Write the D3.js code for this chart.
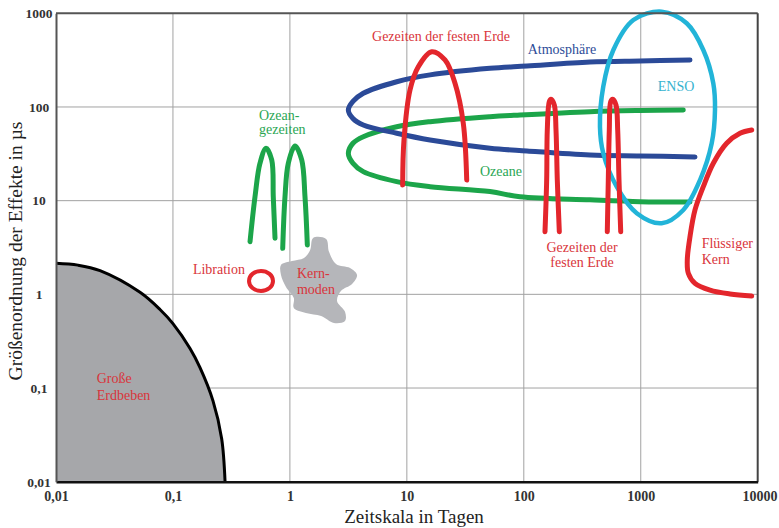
<!DOCTYPE html>
<html><head><meta charset="utf-8">
<script src="https://cdn.jsdelivr.net/npm/d3@7"></script>
<style>body{margin:0;background:#fff}svg{display:block}</style>
</head><body><svg id="c" width="779" height="528"></svg>
<script>
// ---- axis data ----
const xTicks = [0.01, 0.1, 1, 10, 100, 1000, 10000];
const xTickLabels = ["0,01", "0,1", "1", "10", "100", "1000", "10000"];
const yTicks = [0.01, 0.1, 1, 10, 100, 1000];
const yTickLabels = ["0,01", "0,1", "1", "10", "100", "1000"];
const xTitle = "Zeitskala in Tagen";
const yTitle = "Größenordnung der Effekte in µs";

// ---- regions (time scale in days, effect in µs) ----
const grosseErdbeben = [[0.01,2.15],[0.0154,2.05],[0.0238,1.79],[0.0523,1.05],[0.0775,0.689],[0.1,0.487],[0.14,0.264],[0.17,0.166],[0.22,0.073],[0.261,0.0288],[0.279,0.01]];
const kernModen = [[1.58,4.0],[2.04,3.9],[2.16,2.84],[2.48,2.11],[3.27,1.91],[3.75,1.61],[3.40,1.29],[2.74,1.09],[2.53,0.85],[2.96,0.65],[2.96,0.52],[2.38,0.495],[1.85,0.588],[1.37,0.633],[1.08,0.716],[1.08,0.915],[0.926,1.20],[0.839,1.61],[0.839,2.06],[1.04,2.27],[1.32,2.45],[1.49,2.98]];
const ozeane = [[2311,92.9],[985,91.7],[368,89.1],[92.8,82.2],[51.4,78.8],[15.8,69.7],[8.19,61.6],[4.24,48.2],[3.46,41.0],[3.16,32.1],[3.46,25.1],[4.24,20.4],[8.19,15.95],[15.8,14.1],[51.4,12.5],[92.8,11.0],[368,10.2],[985,9.76],[2637,9.68]];
const atmosphaere = [[2637,317],[985,310],[368,302],[106.5,274],[51.4,259],[15.8,220],[8.19,186],[4.24,140],[3.46,114.5],[3.16,92.9],[3.46,75.4],[4.24,64.3],[8.19,52.4],[15.8,44.4],[51.4,36.3],[106.5,33.9],[368,30.7],[985,30.0],[2910,29.3]];
const enso = [[1511,1040],[2471,782],[3426,406],[4173,179],[4313,92.9],[4044,41.0],[3212,16.6],[2311,7.96],[1511,5.74],[924,7.34],[623,14.1],[478,32.1],[448,61.6],[478,164.7],[583,406],[864,848]];
const gezeitenGross = [[9.21,14.71],[9.45,44.4],[10.64,151.9],[12.53,269.2],[16.31,389.2],[21.19,317.4],[25.81,179.0],[30.38,67.0],[32.5,16.63]];
const gezeitenA = [[151.8,4.67],[156.9,16.6],[158.8,56.8],[165.2,113.9],[170.9,120.8],[182.3,105],[188.5,56.8],[193.4,16.6],[201.2,4.67]];
const gezeitenB = [[517.6,4.67],[527.9,16.6],[538.4,56.8],[553.4,113.9],[575.7,120.8],[614.2,105],[635.1,56.8],[651.6,16.6],[673.9,4.67]];
const fluessigerKern = [[8886,56.8],[7058,52.4],[5430,41.0],[4173,25.1],[3426,14.1],[2910,7.96],[2637,4.13],[2500,2.33],[2551,1.68],[2910,1.31],[3910,1.11],[5798,1.01],[8886,0.961]];
const ozeanGezeiten1 = [[0.456,3.65],[0.503,11.0],[0.555,25.1],[0.625,36.3],[0.699,27.2],[0.721,11.0],[0.746,3.97]];
const ozeanGezeiten2 = [[0.868,3.10],[0.908,11.0],[0.969,25.1],[1.106,38.4],[1.262,27.2],[1.346,11.0],[1.409,3.37]];
const libration = {xMin: 0.447, xMax: 0.717, yMin: 1.087, yMax: 1.777};

// ---- annotations (anchor in days / µs) ----
const annotations = [
  {text: "Gezeiten der festen Erde", x: 19.6, y: 506, kind: "red", anchor: "middle"},
  {text: "Atmosphäre", x: 212, y: 368, kind: "blue", anchor: "middle"},
  {text: "ENSO", x: 2002, y: 148, kind: "cyan", anchor: "middle"},
  {text: "Ozeane", x: 63.8, y: 18.3, kind: "green", anchor: "middle"},
  {text: "Gezeiten der", x: 314.5, y: 2.83, kind: "red", anchor: "middle"},
  {text: "festen Erde", x: 314.5, y: 1.96, kind: "red", anchor: "middle"},
  {text: "Flüssiger", x: 3320, y: 3.09, kind: "red", anchor: "start"},
  {text: "Kern", x: 3320, y: 2.11, kind: "red", anchor: "start"},
  {text: "Libration", x: 0.413, y: 1.63, kind: "red", anchor: "end"},
  {text: "Kern-", x: 1.15, y: 1.496, kind: "red", anchor: "start"},
  {text: "moden", x: 1.15, y: 1.01, kind: "red", anchor: "start"},
  {text: "Ozean-", x: 0.544, y: 72.6, kind: "green", anchor: "start"},
  {text: "gezeiten", x: 0.544, y: 51.5, kind: "green", anchor: "start"},
  {text: "Große", x: 0.0223, y: 0.1134, kind: "red", anchor: "start"},
  {text: "Erdbeben", x: 0.0223, y: 0.0746, kind: "red", anchor: "start"}
];

const stroke = {red: "#e3262c", green: "#1ca54a", blue: "#2b4a98", cyan: "#22b4d8"};
const textCol = {red: "#d9353b", green: "#2aa653", blue: "#2d4c98", cyan: "#36b3cf"};

const svg = d3.select("#c");
const x = d3.scaleLog().domain([0.01, 10000]).range([56, 757.7]);
const y = d3.scaleLog().domain([0.01, 1000]).range([481.7, 13.3]);
const serif = "'Liberation Serif','Times New Roman',serif";

// grid
const grid = svg.append("g");
grid.selectAll("line.vx").data(xTicks.slice(1, -1)).join("line")
  .attr("x1", d => x(d)).attr("x2", d => x(d)).attr("y1", y(0.01)).attr("y2", y(1000))
  .attr("stroke", "#a2a2a2").attr("stroke-width", 1);
grid.selectAll("line.hy").data(yTicks.slice(1, -1)).join("line")
  .attr("y1", d => y(d)).attr("y2", d => y(d)).attr("x1", x(0.01)).attr("x2", x(10000))
  .attr("stroke", "#a2a2a2").attr("stroke-width", 1);

const curve = d3.line().x(d => x(d[0])).y(d => y(d[1])).curve(d3.curveCatmullRom.alpha(0.5));
const closed = d3.line().x(d => x(d[0])).y(d => y(d[1])).curve(d3.curveCatmullRomClosed.alpha(0.5));

// Große Erdbeben
svg.append("path")
  .attr("d", curve(grosseErdbeben) + `L${x(0.01)},${y(0.01)}Z`)
  .attr("fill", "#a6a7aa");
svg.append("path").attr("d", curve(grosseErdbeben))
  .attr("fill", "none").attr("stroke", "#000").attr("stroke-width", 3);

// Kernmoden blob
svg.append("path").attr("d", closed(kernModen)).attr("fill", "#b5b6ba");

function drawLine(data, col, w) {
  svg.append("path").attr("d", curve(data)).attr("fill", "none")
    .attr("stroke", stroke[col]).attr("stroke-width", w)
    .attr("stroke-linecap", "round").attr("stroke-linejoin", "round");
}
drawLine(ozeane, "green", 5);
drawLine(atmosphaere, "blue", 5);
svg.append("path").attr("d", closed(enso)).attr("fill", "none")
  .attr("stroke", stroke.cyan).attr("stroke-width", 4.5);
drawLine(gezeitenGross, "red", 5);
drawLine(gezeitenA, "red", 5);
drawLine(gezeitenB, "red", 5);
drawLine(fluessigerKern, "red", 5);
drawLine(ozeanGezeiten1, "green", 5);
drawLine(ozeanGezeiten2, "green", 5);
svg.append("ellipse")
  .attr("cx", (x(libration.xMin) + x(libration.xMax)) / 2)
  .attr("cy", (y(libration.yMin) + y(libration.yMax)) / 2)
  .attr("rx", (x(libration.xMax) - x(libration.xMin)) / 2)
  .attr("ry", (y(libration.yMin) - y(libration.yMax)) / 2)
  .attr("fill", "none").attr("stroke", stroke.red).attr("stroke-width", 4);

// frame
svg.append("line").attr("x1", x(0.01)).attr("x2", x(10000)).attr("y1", y(1000)).attr("y2", y(1000))
  .attr("stroke", "#555").attr("stroke-width", 2);
svg.append("line").attr("x1", x(10000)).attr("x2", x(10000)).attr("y1", y(1000)).attr("y2", y(0.01))
  .attr("stroke", "#444").attr("stroke-width", 2);

// axes
const xAxis = svg.append("g").attr("transform", `translate(0,${y(0.01)})`)
  .call(d3.axisBottom(x).tickValues(xTicks).tickFormat((d, i) => xTickLabels[i]).tickSize(0).tickSizeOuter(0).tickPadding(9));
xAxis.select(".domain").attr("stroke", "#111").attr("stroke-width", 2.5);
xAxis.selectAll("text").attr("font-family", serif).attr("font-size", 14).attr("font-weight", "bold").attr("fill", "#333");
// last label sits against the right edge of the picture
xAxis.selectAll(".tick").filter((d, i) => i === xTicks.length - 1).select("text")
  .attr("text-anchor", "end").attr("x", 777 - x(10000));

const yAxis = svg.append("g").attr("transform", `translate(${x(0.01)},0)`)
  .call(d3.axisLeft(y).tickValues(yTicks).tickFormat((d, i) => yTickLabels[i]).tickSize(0).tickSizeOuter(0));
yAxis.select(".domain").attr("stroke", "#555").attr("stroke-width", 2);
yAxis.selectAll("text").attr("font-family", serif).attr("font-size", 13.5).attr("font-weight", "bold")
  .attr("fill", "#333").attr("text-anchor", "middle").attr("x", -17);

// titles
svg.append("text").attr("x", 414).attr("y", 523).attr("text-anchor", "middle")
  .attr("font-family", serif).attr("font-size", 19).attr("fill", "#222").text(xTitle);
svg.append("text").attr("transform", "translate(22,251) rotate(-90)").attr("text-anchor", "middle")
  .attr("font-family", serif).attr("font-size", 19.5).attr("fill", "#222").text(yTitle);

// annotations
svg.append("g").selectAll("text").data(annotations).join("text")
  .attr("x", d => x(d.x)).attr("y", d => y(d.y)).attr("text-anchor", d => d.anchor)
  .attr("font-family", serif).attr("font-size", 14).attr("fill", d => textCol[d.kind])
  .text(d => d.text);
</script></body></html>
